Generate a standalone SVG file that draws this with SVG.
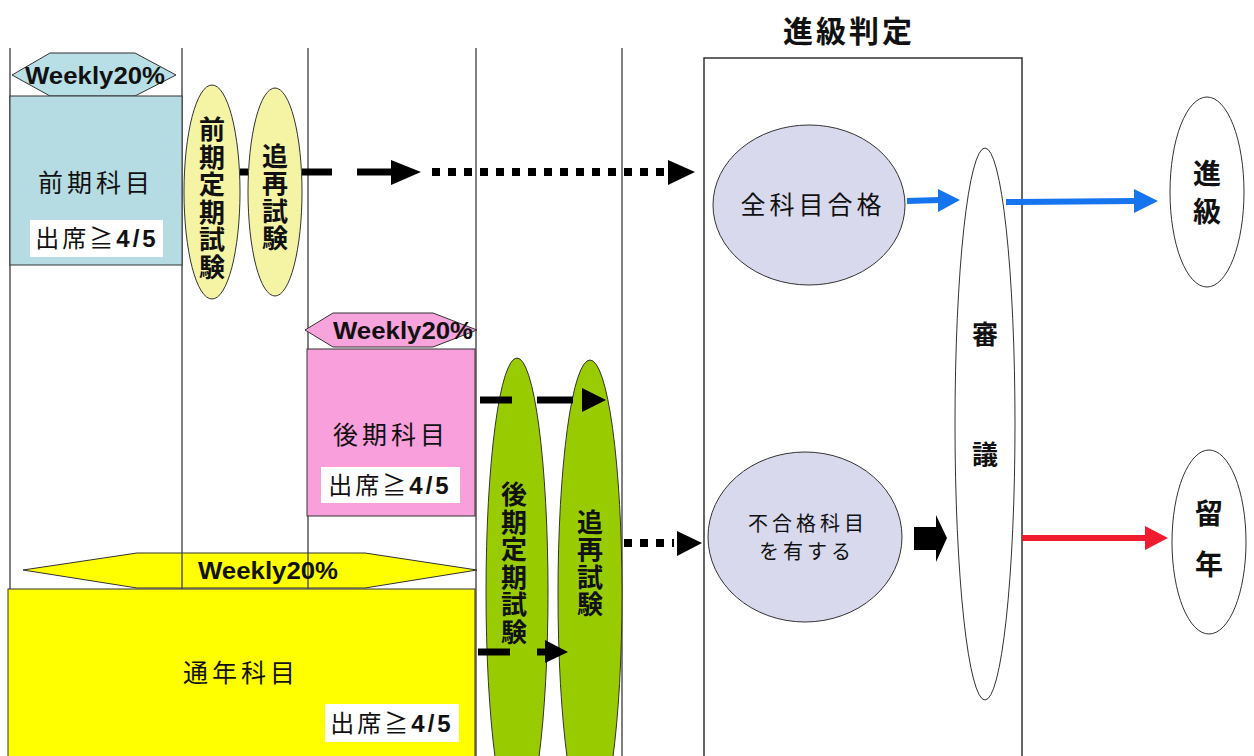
<svg xmlns="http://www.w3.org/2000/svg" width="1254" height="756" viewBox="0 0 1254 756">
<style>
.jp{font-family:"Noto Sans CJK JP","Liberation Sans",sans-serif;fill:#111}
.b{font-weight:bold}
.v{writing-mode:vertical-rl;text-anchor:middle;font-weight:bold;font-size:26px;letter-spacing:1.5px}
.wk{font-family:"Liberation Sans",Arial,sans-serif;font-weight:bold;font-size:24px;fill:#111}
.nb{font-family:"Liberation Sans",Arial,sans-serif;font-weight:bold}
.vl{stroke:#555;stroke-width:1.5}
.sh{stroke:#333;stroke-width:1}
.blk{stroke:#000;stroke-width:7;fill:none}
.dot{stroke:#000;stroke-width:8;stroke-dasharray:8 8;fill:none}
</style>
<rect width="1254" height="756" fill="#fff"/>
<g id="lanes">
<line class="vl" x1="10" y1="48" x2="10" y2="756"/>
<line class="vl" x1="182" y1="48" x2="182" y2="756"/>
<line class="vl" x1="308" y1="48" x2="308" y2="756"/>
<line class="vl" x1="476" y1="48" x2="476" y2="756"/>
<line class="vl" x1="622" y1="48" x2="622" y2="756"/>
</g>
<g id="zenki">
<polygon class="sh" points="12,75 50,53 135,53 176,75 135,96 50,96" fill="#b7dfe5"/>
<text class="wk" x="95" y="84" text-anchor="middle" textLength="140" lengthAdjust="spacingAndGlyphs">Weekly20%</text>
<rect class="sh" x="10" y="96" width="172" height="169" fill="#b5dce3"/>
<text class="jp" x="96" y="192" font-size="25" text-anchor="middle" letter-spacing="4">前期科目</text>
<rect x="30" y="220" width="133" height="37" fill="#fff"/>
<text class="jp" x="97" y="247" font-size="24" text-anchor="middle" letter-spacing="3">出席≧<tspan class="nb">4/5</tspan></text>
</g>
<g id="kouki">
<polygon class="sh" points="305,330 333,313 433,313 477,330 433,347 333,347" fill="#f7a3dc"/>
<text class="wk" x="403" y="339" text-anchor="middle" textLength="140" lengthAdjust="spacingAndGlyphs">Weekly20%</text>
<rect class="sh" x="307" y="349" width="168" height="167" fill="#f99fdc"/>
<text class="jp" x="391" y="444" font-size="25" text-anchor="middle" letter-spacing="4">後期科目</text>
<rect x="321" y="467" width="139" height="36" fill="#fff"/>
<text class="jp" x="390" y="494" font-size="24" text-anchor="middle" letter-spacing="3">出席≧<tspan class="nb">4/5</tspan></text>
</g>
<g id="tsunen">
<polygon class="sh" points="23,570 137,553 365,553 477,570 365,588 137,588" fill="#ffff00"/>
<line class="vl" x1="182" y1="553" x2="182" y2="589"/>
<line class="vl" x1="308" y1="553" x2="308" y2="589"/>
<text class="wk" x="268" y="579" text-anchor="middle" textLength="140" lengthAdjust="spacingAndGlyphs">Weekly20%</text>
<rect class="sh" x="8" y="589" width="467" height="175" fill="#ffff00"/>
<text class="jp" x="241" y="682" font-size="25" text-anchor="middle" letter-spacing="4">通年科目</text>
<rect x="325" y="704" width="134" height="38" fill="#fff"/>
<text class="jp" x="392" y="732" font-size="24" text-anchor="middle" letter-spacing="3">出席≧<tspan class="nb">4/5</tspan></text>
</g>
<g id="zenki-teiki">
<ellipse class="sh" cx="212" cy="192" rx="28" ry="107" fill="#f4f4a4"/>
<text class="jp v" x="212" y="199">前期定期試験</text>
</g>
<g id="zenki-tsuisai">
<ellipse class="sh" cx="275" cy="192" rx="27" ry="104" fill="#f4f4a4"/>
<text class="jp v" x="275" y="198">追再試験</text>
</g>
<g id="kouki-teiki">
<ellipse class="sh" cx="517" cy="592" rx="31" ry="234" fill="#99cc00"/>
<text class="jp v" x="514" y="564">後期定期試験</text>
</g>
<g id="kouki-tsuisai">
<ellipse class="sh" cx="590" cy="594" rx="32" ry="234" fill="#99cc00"/>
<text class="jp v" x="590" y="564">追再試験</text>
</g>
<g id="hantei">
<text class="jp b" x="849" y="42" font-size="30" text-anchor="middle" letter-spacing="3">進級判定</text>
<rect x="704" y="58" width="318" height="710" fill="none" stroke="#333" stroke-width="1.5"/>
</g>
<g id="zenkamoku">
<ellipse class="sh" cx="809" cy="205" rx="96" ry="80" fill="#d9d9ee"/>
<text class="jp" x="813" y="214" font-size="25" text-anchor="middle" letter-spacing="4">全科目合格</text>
</g>
<g id="fugoukaku">
<ellipse class="sh" cx="805" cy="537" rx="97" ry="85" fill="#d9d9ee"/>
<text class="jp" x="808" y="531" font-size="20" text-anchor="middle" letter-spacing="4">不合格科目</text>
<text class="jp" x="807" y="559" font-size="20" text-anchor="middle" letter-spacing="4">を有する</text>
</g>
<g id="shingi">
<ellipse class="sh" cx="985" cy="424" rx="30" ry="276" fill="#fff"/>
<text class="jp b" x="985" y="344" font-size="26" text-anchor="middle">審</text>
<text class="jp b" x="985" y="464" font-size="26" text-anchor="middle">議</text>
</g>
<g id="shinkyu">
<ellipse class="sh" cx="1207" cy="192" rx="37" ry="95" fill="#fff"/>
<text class="jp b" x="1207" y="184" font-size="28" text-anchor="middle">進</text>
<text class="jp b" x="1207" y="222" font-size="28" text-anchor="middle">級</text>
</g>
<g id="ryunen">
<ellipse class="sh" cx="1209" cy="542" rx="37" ry="92" fill="#fff"/>
<text class="jp b" x="1209" y="524" font-size="28" text-anchor="middle">留</text>
<text class="jp b" x="1209" y="575" font-size="28" text-anchor="middle">年</text>
</g>
<g id="connectors">
<line class="blk" x1="240" y1="172" x2="248" y2="172"/>
<line class="blk" x1="302" y1="172" x2="332" y2="172"/>
<line class="blk" x1="357" y1="172" x2="392" y2="172"/>
<polygon points="391,160 421,172 391,185" fill="#000"/>
<line class="dot" x1="432" y1="172" x2="668" y2="172"/>
<polygon points="668,160 695,172 668,185" fill="#000"/>

<line class="blk" x1="480" y1="400" x2="512" y2="400"/>
<line class="blk" x1="537" y1="400" x2="573" y2="400"/>
<polygon points="582,388 606,400 582,412" fill="#000"/>

<line class="blk" x1="478" y1="652" x2="510" y2="652"/>
<line class="blk" x1="537" y1="652" x2="547" y2="652"/>
<polygon points="545,640 568,652 545,663" fill="#000"/>

<line class="dot" x1="624" y1="543" x2="674" y2="543"/>
<polygon points="677,531 702,543 677,556" fill="#000"/>

<line x1="907" y1="201" x2="940" y2="200" stroke="#1574ee" stroke-width="6"/>
<polygon points="938,189 960,200 938,212" fill="#1574ee"/>
<line x1="1006" y1="202" x2="1136" y2="201" stroke="#1574ee" stroke-width="6"/>
<polygon points="1134,189 1158,201 1134,213" fill="#1574ee"/>

<polygon points="914,527 936,527 936,515 947,538 936,562 936,550 914,550" fill="#000"/>

<line x1="1022" y1="538" x2="1146" y2="538" stroke="#ee1c2e" stroke-width="6"/>
<polygon points="1145,526 1168,538 1145,550" fill="#ee1c2e"/>
</g>
</svg>
